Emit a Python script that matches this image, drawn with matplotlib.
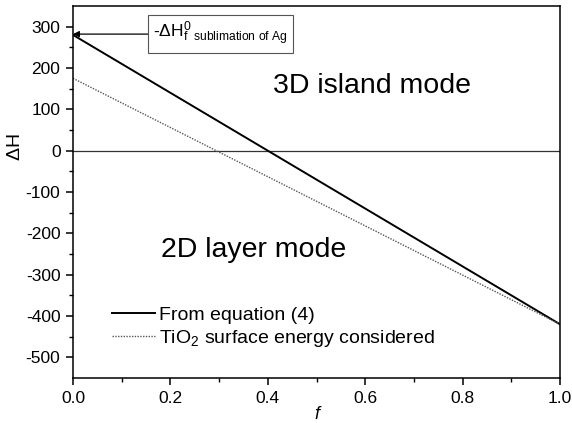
import numpy as np
import matplotlib
matplotlib.use("Agg")
import matplotlib.pyplot as plt

plt.rcParams['font.family'] = ['Liberation Sans', 'DejaVu Sans']
plt.rcParams['mathtext.fontset'] = 'custom'
plt.rcParams['mathtext.rm'] = 'Liberation Sans'
plt.rcParams['mathtext.it'] = 'Liberation Sans:italic'
plt.rcParams['axes.unicode_minus'] = False

# data
f_vals = [0.0, 1.0]
dh_equation = [280, -420]
dh_tio2 = [175, -420]
zero_line = [0, 0]

x_ticks = [0.0, 0.2, 0.4, 0.6, 0.8, 1.0]
y_ticks = [-500, -400, -300, -200, -100, 0, 100, 200, 300]

fig = plt.figure(figsize=(5.72, 4.23), dpi=100)
ax = fig.add_axes([73/572, 1 - 378/423, (560 - 73)/572, (378 - 6)/423])

ax.plot(f_vals, zero_line, color='#333333', lw=0.9)
ax.plot(f_vals, dh_equation, color='black', lw=1.4, label='From equation (4)')
ax.plot(f_vals, dh_tio2, color='#555555', lw=1.0, linestyle=(0, (1, 1)),
        label=r'TiO$_2$ surface energy considered')

ax.set_xlim(0, 1.0)
ax.set_ylim(-550, 350)
ax.set_xticks(x_ticks)
ax.set_xticklabels([f"{v:.1f}" for v in x_ticks])
ax.set_yticks(y_ticks)
ax.set_xticks(np.arange(0.1, 1.0, 0.2), minor=True)
ax.set_yticks(np.arange(-450, 350, 100), minor=True)
ax.tick_params(which='major', direction='out', length=5, width=1.1, labelsize=12.5, pad=4)
ax.tick_params(which='minor', direction='out', length=3, width=1.0)
for s in ax.spines.values():
    s.set_linewidth(1.1)

ax.set_xlabel('f', fontsize=13, style='italic', labelpad=0)
ax.set_ylabel(r'$\Delta$H', fontsize=14)
ax.yaxis.set_label_coords(-0.10, 0.62)

ax.text(0.41, 0.785, '3D island mode', transform=ax.transAxes, fontsize=20.5, va='center')
ax.text(0.18, 0.345, '2D layer mode', transform=ax.transAxes, fontsize=20.5, va='center')

ax.annotate(r'-$\mathrm{\Delta H}^{0}_{\mathrm{f\ \ sublimation\ of\ Ag}}$',
            xy=(0.0, 282), xytext=(0.165, 282), fontsize=12.5, va='center',
            bbox=dict(boxstyle='square,pad=0.3', fc='white', ec='#555555', lw=0.8),
            arrowprops=dict(arrowstyle='-|>', color='black', lw=0.9,
                            shrinkA=0, shrinkB=0, mutation_scale=9))

ax.legend(loc='lower left', bbox_to_anchor=(0.06, 0.052), frameon=False, fontsize=14,
          handlelength=2.2, handletextpad=0.2, labelspacing=0.2, borderpad=0)

fig.savefig('out.png', dpi=100)
